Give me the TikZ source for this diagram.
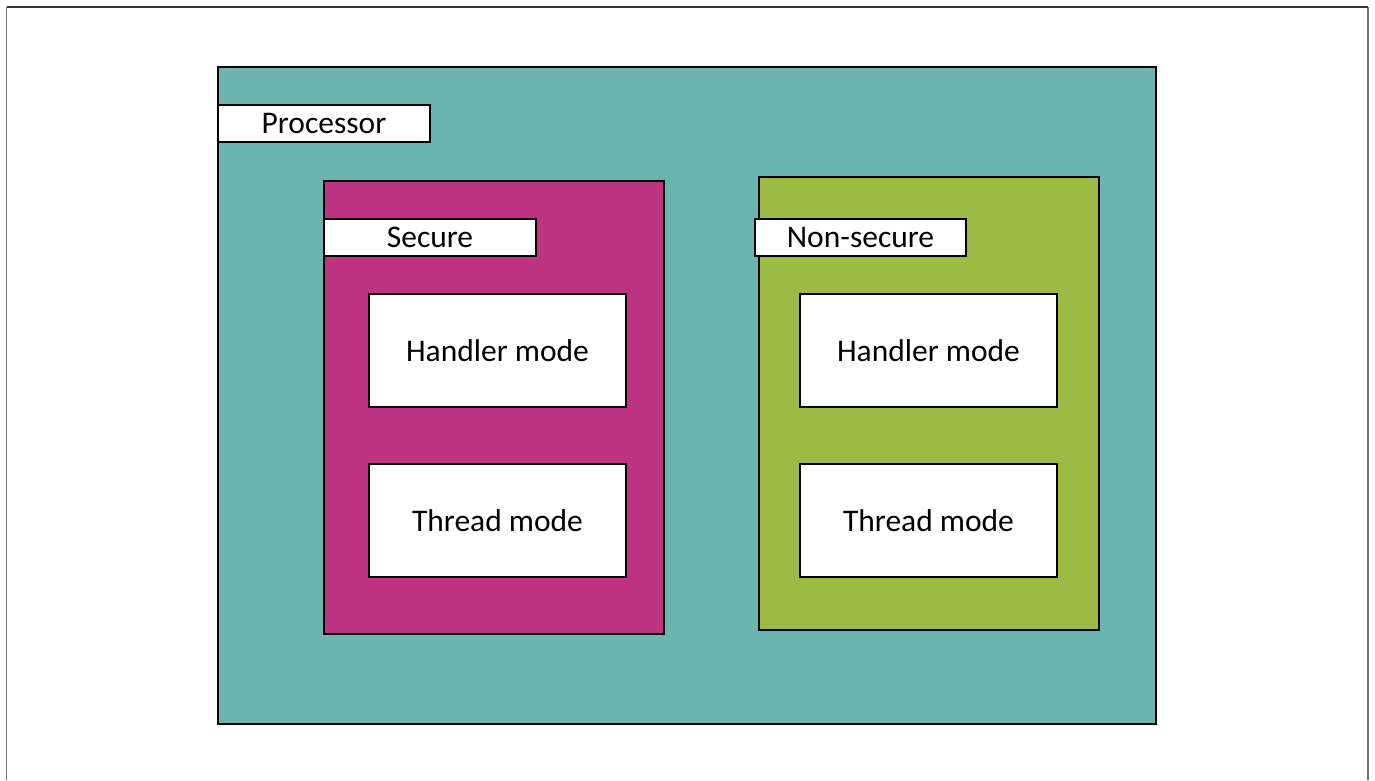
\documentclass[tikz,border=0pt]{standalone}
\usepackage{fontspec}
\setmainfont{Carlito}
\definecolor{proc}{HTML}{6CB4AF}
\definecolor{sec}{HTML}{BE3282}
\definecolor{nsec}{HTML}{9BBB44}
\begin{document}
\begin{tikzpicture}[x=1pt,y=-1pt,
  box/.style={draw=black,line width=1.6pt,inner sep=0pt,outer sep=0pt,anchor=north west,
    font=\fontsize{31.5}{36}\selectfont},
  region/.style={box,fill=#1},
  label/.style={box,fill=white,minimum width=212pt,minimum height=37pt},
  mode/.style={box,fill=white,minimum width=257pt,minimum height=113pt}]
  % page area and frame
  \fill[white] (0,0) rectangle (1375,780);
  \useasboundingbox (0,0) rectangle (1375,780);
  \draw[gray!90!black,line width=1.5pt] (6.5,780) -- (6.5,7);
  \draw[gray!90!black,line width=1.5pt] (1368,780) -- (1368,7);
  \draw[black!80,line width=1.2pt] (6.5,7) -- (1368,7);
  % processor
  \node[region=proc,minimum width=938pt,minimum height=657pt] (processor) at (218,67) {};
  \node[label] (proclabel) at (218,105) {Processor};
  % secure state
  \node[region=sec,minimum width=340pt,minimum height=453pt] (secure) at (324,181) {};
  \node[label] (seclabel) at (324,219) {Secure};
  \node[mode] (shandler) at (369,294) {Handler mode};
  \node[mode] (sthread) at (369,464) {Thread mode};
  % non-secure state
  \node[region=nsec,minimum width=340pt,minimum height=453pt] (nonsecure) at (759,177) {};
  \node[label,minimum width=211pt] (nseclabel) at (755,219) {Non-secure};
  \node[mode] (nshandler) at (800,294) {Handler mode};
  \node[mode] (nsthread) at (800,464) {Thread mode};
\end{tikzpicture}
\end{document}
